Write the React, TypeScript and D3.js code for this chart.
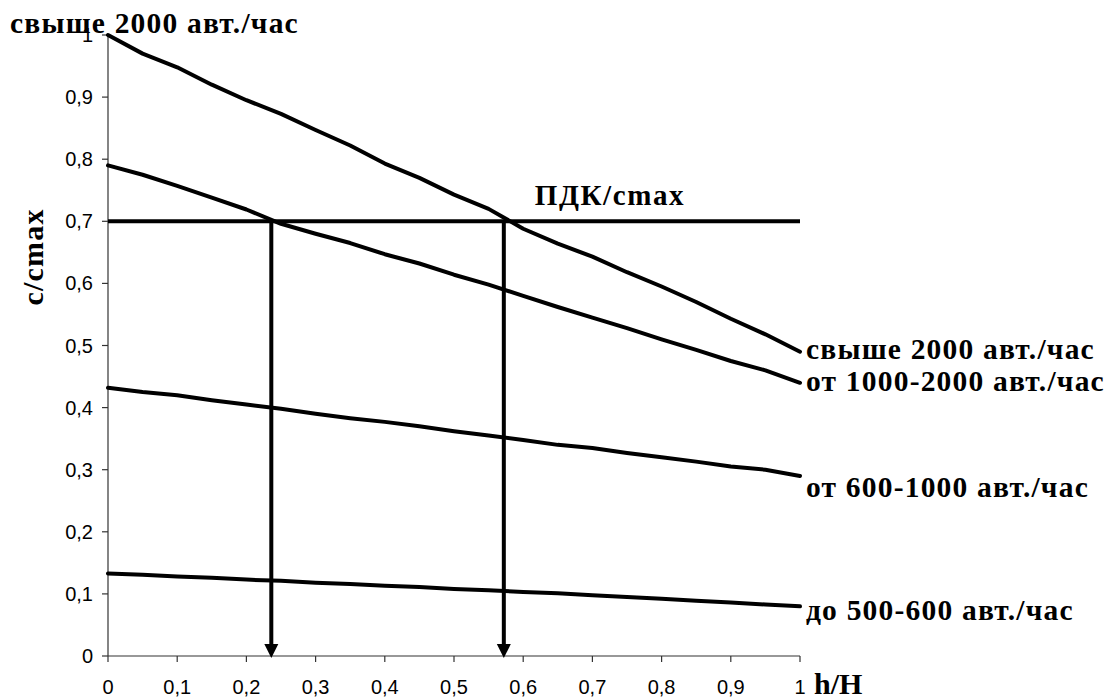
import React from 'react';
import * as d3 from 'd3';

const hValues = [0, 0.05, 0.1, 0.15, 0.2, 0.25, 0.3, 0.35, 0.4, 0.45, 0.5, 0.55, 0.6, 0.65, 0.7, 0.75, 0.8, 0.85, 0.9, 0.95, 1.0];
const over2000 = [1.0, 0.97, 0.948, 0.92, 0.895, 0.873, 0.847, 0.822, 0.793, 0.77, 0.743, 0.72, 0.688, 0.664, 0.643, 0.618, 0.595, 0.57, 0.543, 0.518, 0.49];
const from1000to2000 = [0.79, 0.775, 0.757, 0.738, 0.719, 0.696, 0.68, 0.665, 0.647, 0.632, 0.614, 0.598, 0.58, 0.562, 0.545, 0.528, 0.51, 0.493, 0.475, 0.46, 0.44];
const from600to1000 = [0.432, 0.425, 0.42, 0.412, 0.405, 0.398, 0.39, 0.383, 0.377, 0.37, 0.362, 0.355, 0.348, 0.34, 0.335, 0.327, 0.32, 0.313, 0.305, 0.3, 0.29];
const upTo600 = [0.133, 0.131, 0.128, 0.126, 0.123, 0.121, 0.118, 0.116, 0.113, 0.111, 0.108, 0.106, 0.103, 0.101, 0.098, 0.095, 0.092, 0.089, 0.086, 0.083, 0.08];

const seriesLabels = ['свыше 2000 авт./час', 'от 1000-2000 авт./час', 'от 600-1000 авт./час', 'до 500-600 авт./час'];
const labelBaselines = [359, 391, 497, 620];

const xTicks = [0, 0.1, 0.2, 0.3, 0.4, 0.5, 0.6, 0.7, 0.8, 0.9, 1];
const xTickLabels = ['0', '0,1', '0,2', '0,3', '0,4', '0,5', '0,6', '0,7', '0,8', '0,9', '1'];
const yTicks = [0, 0.1, 0.2, 0.3, 0.4, 0.5, 0.6, 0.7, 0.8, 0.9, 1];
const yTickLabels = ['0', '0,1', '0,2', '0,3', '0,4', '0,5', '0,6', '0,7', '0,8', '0,9', '1'];

const pdkLevel = 0.7;
const arrowPositions = [0.236, 0.572];

const W = 1113;
const H = 697;
const serif = 'Liberation Serif';
const sans = 'Liberation Sans';

export default function App() {
  const x = d3.scaleLinear().domain([0, 1]).range([108, 800]);
  const y = d3.scaleLinear().domain([0, 1]).range([656, 35]);
  const line = d3.line<number>().x((_, i) => x(hValues[i])).y((d) => y(d));
  const series = [over2000, from1000to2000, from600to1000, upTo600];

  return (
    <svg width={W} height={H} style={{ position: 'absolute', left: 0, top: 0, background: '#fff' }}>
      {/* axes */}
      <line x1={x(0)} x2={x(0)} y1={y(0)} y2={y(1)} stroke="#333" strokeWidth={1.2} />
      <line x1={x(0)} x2={x(1)} y1={y(0)} y2={y(0)} stroke="#333" strokeWidth={1.2} />
      {yTicks.map((t, i) => (
        <g key={'y' + i}>
          <line x1={x(0) - 6} x2={x(0)} y1={y(t)} y2={y(t)} stroke="#333" strokeWidth={1.2} />
          <text x={x(0) - 15} y={y(t) + 7} textAnchor="end" fontFamily={sans} fontSize={20} fill="#000">
            {yTickLabels[i]}
          </text>
        </g>
      ))}
      {xTicks.map((t, i) => (
        <g key={'x' + i}>
          <line x1={x(t)} x2={x(t)} y1={y(0)} y2={y(0) + 6} stroke="#333" strokeWidth={1.2} />
          <text x={x(t)} y={694} textAnchor="middle" fontFamily={sans} fontSize={20} fill="#000">
            {xTickLabels[i]}
          </text>
        </g>
      ))}

      {/* ПДК line */}
      <line x1={x(0)} x2={x(1)} y1={y(pdkLevel)} y2={y(pdkLevel)} stroke="#000" strokeWidth={4} />
      <text x={610} y={205} textAnchor="middle" fontFamily={serif} fontWeight="bold" fontSize={29} letterSpacing={1.6} fill="#000">
        ПДК/cmax
      </text>

      {/* curves */}
      {series.map((s, i) => (
        <path key={'s' + i} d={line(s) || ''} fill="none" stroke="#000" strokeWidth={4} strokeLinejoin="round" strokeLinecap="round" />
      ))}

      {/* arrows */}
      {arrowPositions.map((a, i) => {
        const ax = x(a);
        const tipY = y(0) + 2;
        return (
          <g key={'a' + i}>
            <line x1={ax} x2={ax} y1={y(pdkLevel)} y2={tipY - 10} stroke="#000" strokeWidth={4} />
            <path d={`M${ax - 7},${tipY - 14} L${ax + 7},${tipY - 14} L${ax},${tipY} Z`} fill="#000" />
          </g>
        );
      })}

      {/* series labels */}
      {seriesLabels.map((l, i) => (
        <text key={'l' + i} x={806} y={labelBaselines[i]} fontFamily={serif} fontWeight="bold" fontSize={29.5} letterSpacing={1.2} fill="#000">
          {l}
        </text>
      ))}

      {/* top-left label */}
      <text x={10} y={33} fontFamily={serif} fontWeight="bold" fontSize={29.5} letterSpacing={1.2} fill="#000">
        свыше 2000 авт./час
      </text>

      {/* axis titles */}
      <text transform={`translate(43,257) rotate(-90)`} textAnchor="middle" fontFamily={serif} fontWeight="bold" fontSize={30} letterSpacing={1.2} fill="#000">
        c/cmax
      </text>
      <text x={814} y={694} fontFamily={serif} fontWeight="bold" fontSize={30} fill="#000">
        h/H
      </text>
    </svg>
  );
}
